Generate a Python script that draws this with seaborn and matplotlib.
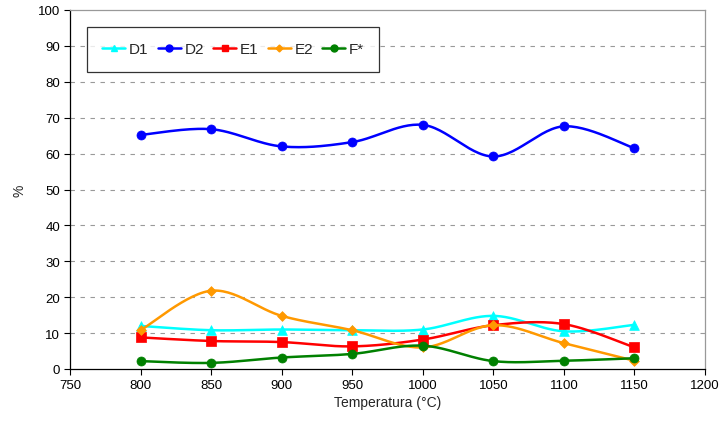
import numpy as np
import pandas as pd
import matplotlib
matplotlib.use("Agg")
import matplotlib.pyplot as plt
import seaborn as sns
from matplotlib.lines import Line2D

temps = [800, 850, 900, 950, 1000, 1050, 1100, 1150]
d1 = [12.0, 10.8, 11.0, 10.8, 11.0, 14.8, 10.5, 12.3]
d2 = [65.2, 66.8, 62.0, 63.2, 68.0, 59.2, 67.6, 61.5]
e1 = [8.8, 7.8, 7.5, 6.3, 8.2, 12.2, 12.5, 6.0]
e2 = [10.8, 21.8, 14.8, 10.8, 6.0, 12.2, 7.2, 2.3]
fs = [2.2, 1.7, 3.2, 4.2, 6.5, 2.2, 2.3, 3.0]
series_names = ["D1", "D2", "E1", "E2", "F*"]
x_ticks = [750, 800, 850, 900, 950, 1000, 1050, 1100, 1150, 1200]
y_ticks = [0, 10, 20, 30, 40, 50, 60, 70, 80, 90, 100]

colors = {"D1": "#00FFFF", "D2": "#0000FF", "E1": "#FF0000", "E2": "#FF9900", "F*": "#008000"}
markers = {"D1": "^", "D2": "o", "E1": "s", "E2": "D", "F*": "o"}
msizes = {"D1": 7, "D2": 6.5, "E1": 7, "E2": 5, "F*": 6.5}

df = pd.DataFrame({"Temperatura": temps * 5,
                   "valor": d1 + d2 + e1 + e2 + fs,
                   "serie": sum([[n] * len(temps) for n in series_names], [])})


def smooth(xs, ys, n=30):
    # Excel-like smoothed line: Catmull-Rom Bezier segments
    p = np.column_stack([xs, ys]).astype(float)
    pts = np.vstack([p[0], p, p[-1]])
    out = []
    t = np.linspace(0, 1, n)[:, None]
    for i in range(1, len(pts) - 2):
        p0, p1, p2, p3 = pts[i - 1], pts[i], pts[i + 1], pts[i + 2]
        c1 = p1 + (p2 - p0) / 6
        c2 = p2 - (p3 - p1) / 6
        seg = ((1 - t) ** 3) * p1 + 3 * ((1 - t) ** 2) * t * c1 + 3 * (1 - t) * t ** 2 * c2 + t ** 3 * p2
        out.append(seg if i == 1 else seg[1:])
    out = np.vstack(out)
    return out[:, 0], out[:, 1]


sns.set_style("white")
plt.rcParams["font.family"] = ["Liberation Sans", "DejaVu Sans"]

fig = plt.figure(figsize=(7.25, 4.27), dpi=100)
ax = fig.add_axes([70 / 725, 1 - 370 / 427, 635 / 725, 359 / 427])

for i, name in enumerate(series_names):
    sub = df[df["serie"] == name]
    sx, sy = smooth(sub["Temperatura"].values, sub["valor"].values)
    ax.plot(sx, sy, color=colors[name], lw=1.8, zorder=3 + i, solid_capstyle="round")
    sns.scatterplot(x=sub["Temperatura"], y=sub["valor"], ax=ax, color=colors[name],
                    marker=markers[name], s=msizes[name] ** 2, edgecolor=colors[name],
                    linewidth=0.5, zorder=3.5 + i, legend=False)

ax.set_xlim(750, 1200)
ax.set_ylim(0, 100)
ax.set_xticks(x_ticks)
ax.set_yticks(y_ticks)
ax.tick_params(axis="both", labelsize=9.5, direction="out", length=4, width=0.8,
               colors="black", left=True, bottom=True, pad=3)
for yv in y_ticks[1:-1]:
    ax.axhline(yv, color="#999999", lw=0.8, ls=(0, (4, 5)), zorder=1)
ax.spines["left"].set_color("black")
ax.spines["bottom"].set_color("black")
ax.spines["top"].set_color("#999999")
ax.spines["right"].set_color("#999999")
for s in ax.spines.values():
    s.set_linewidth(0.9)
ax.set_xlabel("Temperatura (°C)", fontsize=10, labelpad=3)
ax.set_ylabel("%", fontsize=10, labelpad=8)

lg_ms = {"D1": 5, "D2": 5, "E1": 5, "E2": 3.5, "F*": 5}
handles = [Line2D([0], [0], color=colors[n], lw=1.8, marker=markers[n],
                  markersize=lg_ms[n], label=n) for n in series_names]
leg = ax.legend(handles=handles, loc="upper left", bbox_to_anchor=(17 / 635, 1 - 17 / 359),
                ncol=5, fontsize=11, frameon=True, fancybox=False, edgecolor="black",
                handlelength=1.5, handletextpad=0.25, columnspacing=0.6,
                borderpad=1.0, borderaxespad=0)
leg.get_frame().set_linewidth(0.9)
leg.set_zorder(20)

fig.savefig("out.png", dpi=100)
